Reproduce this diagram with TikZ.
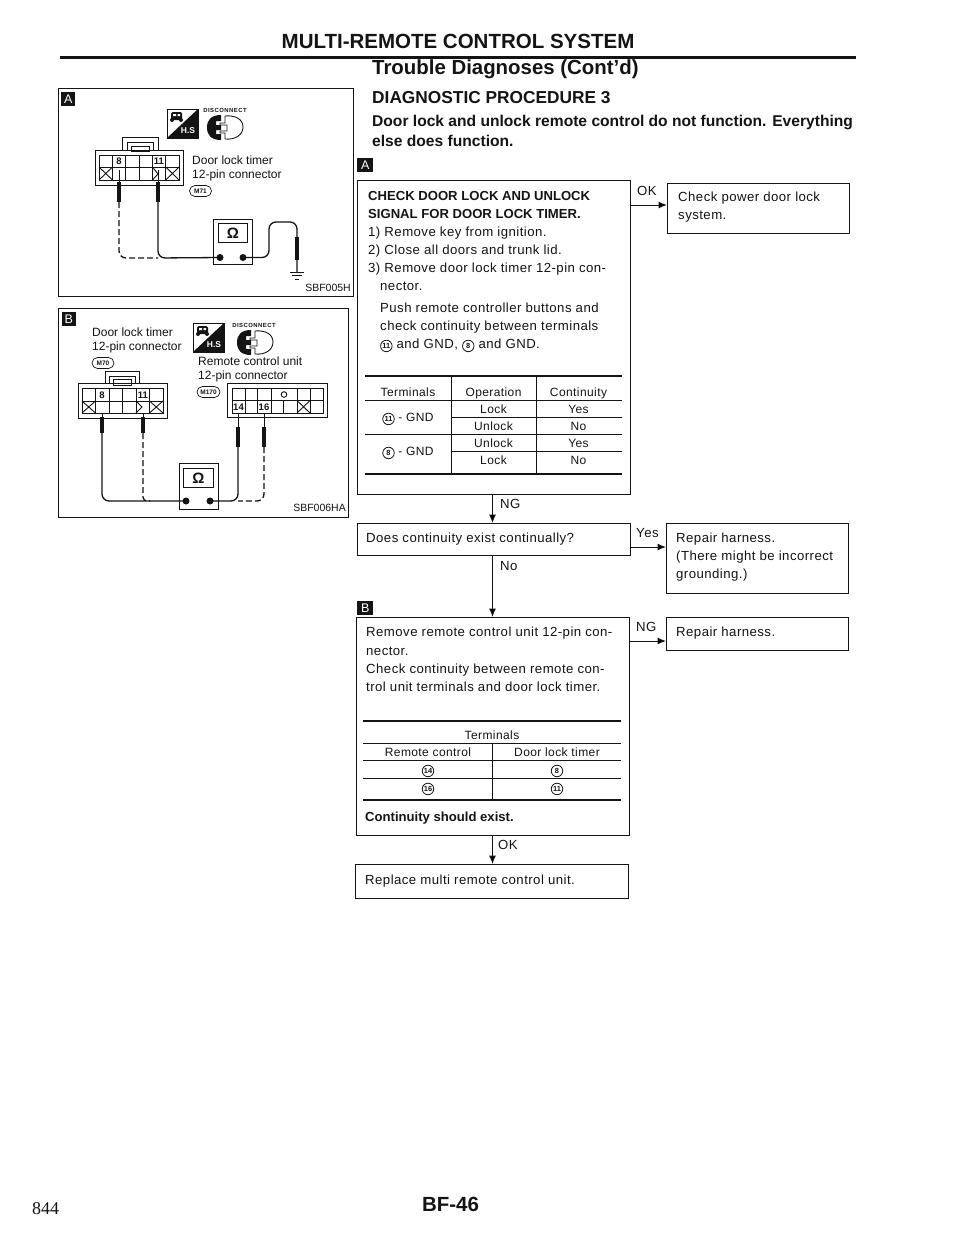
\documentclass[tikz,border=0pt]{standalone}
\usepackage{fontspec}
\setmainfont{Liberation Sans}
\newfontfamily\serifnum{Liberation Serif}
\newfontfamily\lsf[LetterSpace=3.4]{Liberation Sans}
\newfontfamily\wdf[LetterSpace=8]{Liberation Sans}
\usetikzlibrary{arrows.meta,shapes.misc}
\definecolor{ink}{HTML}{141414}
\newcommand\fs[1]{\fontsize{#1}{#1}\selectfont}
\newcommand\cnum[1]{\tikz[baseline=(cnn.base)]\node[circle,draw=ink,line width=0.8pt,inner sep=0pt,minimum size=11.5pt,text=ink,font=\rmfamily\bfseries\fs{7.4}] (cnn) {#1};}
\newcommand\xc[4]{\draw[thin1] (#1,#2) -- (#3,#4) (#1,#4) -- (#3,#2);}
\tikzset{
  x=1pt,y=-1pt,
  thin1/.style={draw=ink,line width=0.9pt},
  boxn/.style={draw=ink,line width=1.1pt,anchor=north west,inner sep=0pt,fill=none},
  txt/.style={anchor=base west,inner sep=0pt,text=ink,font=\lsf\fs{13.2}},
  txtc/.style={anchor=base,inner sep=0pt,text=ink,font=\lsf\fs{12}},
  tbold/.style={anchor=base west,inner sep=0pt,text=ink,font=\fs{13.1}\bfseries},
  lab/.style={anchor=base west,inner sep=0pt,text=ink,font=\fs{12}},
  tagbox/.style={fill=ink,text=white,anchor=north west,inner sep=0pt,minimum width=14pt,minimum height=14pt,font=\fs{12.5}},
  ftag/.style={tagbox,minimum width=16pt,minimum height=13.5pt},
  oval/.style={draw=ink,rounded rectangle,line width=0.7pt,inner sep=0pt,minimum height=11pt,font=\fs{6.5}\bfseries,text=ink},
  arr/.style={draw=ink,line width=1pt,-{Latex[length=8.5pt,width=7pt]}},
  wire/.style={draw=ink,line width=1.3pt,rounded corners=7pt},
  dwire/.style={wire,dash pattern=on 6pt off 3pt},
  probe/.style={draw=ink,line width=3.4pt},
  stem/.style={draw=ink,line width=1pt},
  dot/.style={circle,fill=ink,inner sep=0pt,minimum size=7pt},
  tr/.style={draw=ink,line width=0.9pt},
  trb/.style={draw=ink,line width=2pt},
  disc/.style={anchor=center,inner sep=0pt,text=ink,font=\wdf\bfseries\fs{5.9}},
  hsicon/.pic={
    \draw[ink,line width=0.8pt] (0,0) rectangle (31,29);
    \fill[ink] (31,0) -- (31,29) -- (0,29) -- cycle;
    \fill[ink,rounded corners=1.5pt] (4,3) rectangle (15,11);
    \fill[white] (6,5) rectangle (9,7) (10.5,5) rectangle (13,7);
    \fill[ink] (5,11) circle (2) (14,11) circle (2);
    \node[anchor=center,inner sep=0pt,text=white,font=\fs{8.5}\bfseries] (-t) at (21,22) {H.S};
  },
  plugicon/.pic={
    \fill[ink] (14,0) .. controls (4,0) and (0,5) .. (0,12.5) .. controls (0,20) and (4,25) .. (14,25) -- (14,19) -- (9,19) -- (9,15) -- (14,15) -- (14,10) -- (9,10) -- (9,6) -- (14,6) -- cycle;
    \draw[ink,line width=0.9pt] (18,1) .. controls (28,0) and (36,4) .. (36,12) .. controls (36,20) and (28,25) .. (18,24) -- (18,18) -- (13,18) -- (13,16) -- (20,16) -- (20,10) -- (13,10) -- (13,8) -- (18,8) -- cycle;
  },
}
\begin{document}
\begin{tikzpicture}
\useasboundingbox (0,0) rectangle (960,1242);
\fill[white] (0,0) rectangle (960,1242);
\coordinate (axis) at (492.5,0);
% header
\node[anchor=base,inner sep=0pt,text=ink,font=\fs{20.5}\bfseries] (title) at (458,48) {MULTI-REMOTE CONTROL SYSTEM};
\draw[draw=ink,line width=3pt] (60,57) -- (856,57);
\node[anchor=base west,inner sep=0pt,text=ink,font=\fs{20.4}\bfseries] (t2) at (372,74) {Trouble Diagnoses (Cont'd)};
\node[anchor=base west,inner sep=0pt,text=ink,font=\fs{17.3}\bfseries] (t3) at (372,103.5) {DIAGNOSTIC PROCEDURE 3};
\node[anchor=base west,inner sep=0pt,text=ink,font=\fs{15.6}\bfseries] (t4) at (372,126.5) {Door lock and unlock remote control do not function. Everything};
\node[anchor=base west,inner sep=0pt,text=ink,font=\fs{15.6}\bfseries] (t5) at (372,146.5) {else does function.};

% ---------- Panel A
\node[boxn,minimum width=295pt,minimum height=208pt] (pa) at (58,88) {};
\node[tagbox] (ta) at (61,92) {A};
\pic (hsa) at (167,109) {hsicon};
\node[disc] (da) at (225,110) {DISCONNECT};
\pic (pla) at (207,115) {plugicon};
% connector A
\draw[thin1] (122,150) -- (122,137) -- (158,137) -- (158,150);
\draw[thin1] (127,150) -- (127,142) -- (153,142) -- (153,150);
\draw[thin1] (131,146) rectangle (149,151);
\draw[thin1] (95,150) -- (183,150) -- (183,185) -- (95,185) -- cycle;
\draw[thin1] (99,155) rectangle (179,180);
\draw[thin1] (99,167) -- (179,167);
\foreach \q in {112.5,125.8,139.2,152.5,165.8} \draw[thin1] (\q,155) -- (\q,180);
\xc{99}{167}{112.5}{180}
\xc{165.8}{167}{179}{180}
\draw[thin1] (152.5,167) -- (158,174) -- (152.5,180);
\fill[white] (114,156) rectangle (124,166);
\node[anchor=center,inner sep=0pt,text=ink,font=\fs{9.5}\bfseries] (a8) at (119,161) {8};
\fill[white] (153.5,156) rectangle (165,166);
\node[anchor=center,inner sep=0pt,text=ink,font=\fs{9.5}\bfseries] (a11) at (159,161) {11};
\node[lab] (la1) at (192,164.5) {Door lock timer};
\node[lab] (la2) at (192,178.5) {12-pin connector};
\node[oval,minimum width=22pt] (oa) at (200.5,191) {M71};
% meter A
\node[draw=ink,line width=0.8pt,anchor=north west,inner sep=0pt,minimum width=39pt,minimum height=45pt] (ma) at (213,219) {};
\node[draw=ink,line width=0.8pt,anchor=north west,inner sep=0pt,minimum width=29pt,minimum height=19pt,font=\fs{15}\bfseries,text=ink] (sa) at (218,223) {Ω};
\node[dot] (dal) at (220,257.5) {};
\node[dot] (dar) at (243,257.5) {};
\coordinate (pa8) at (119,170);
\coordinate (pa8b) at (119,202);
\coordinate (pa11) at (158,170);
\coordinate (pa11b) at (158,202);
\draw[stem] (pa8) -- (119,182);
\draw[stem] (pa11) -- (158,182);
\draw[probe] (119,182) -- (pa8b);
\draw[probe] (158,182) -- (pa11b);
\draw[dwire] (pa8b) -- (119,258) -- (158,258);
\draw[wire] (pa11b) -- (158,258) -- (dal.center);
\coordinate (gnda) at (297,272);
\draw[wire] (dar.center) -- (269,257.5) -- (269,222) -- (297,222) -- (gnda);
\draw[probe] (297,237) -- (297,260);
\draw[thin1] (290,272) -- (304,272) (292,275.5) -- (302,275.5) (295,279) -- (299,279);
\node[anchor=base east,inner sep=0pt,text=ink,font=\fs{10.5}] (sa5) at (351,291) {SBF005H};

% ---------- Panel B
\node[boxn,minimum width=290pt,minimum height=209pt] (pb) at (58,308) {};
\node[tagbox] (tb) at (61.5,312) {B};
\node[lab] (lb1) at (92,336.5) {Door lock timer};
\node[lab] (lb2) at (92,350.5) {12-pin connector};
\node[oval,minimum width=22pt] (ob1) at (103,363) {M70};
\pic (hsb) at (193,323) {hsicon};
\node[disc] (db) at (254,325) {DISCONNECT};
\pic (plb) at (237,330) {plugicon};
\node[lab] (lb3) at (198,365.5) {Remote control unit};
\node[lab] (lb4) at (198,379.5) {12-pin connector};
\node[oval,minimum width=23pt] (ob2) at (208.5,392) {M170};
% left connector B
\draw[thin1] (105,383) -- (105,371) -- (139,371) -- (139,383);
\draw[thin1] (109,383) -- (109,376) -- (135,376) -- (135,383);
\draw[thin1] (113,379) rectangle (131,385);
\draw[thin1] (78,383) -- (167,383) -- (167,418) -- (78,418) -- cycle;
\draw[thin1] (82,388) rectangle (163,413);
\draw[thin1] (82,401) -- (163,401);
\foreach \q in {95.5,109,122.5,136,149.5} \draw[thin1] (\q,388) -- (\q,413);
\xc{82}{401}{95.5}{413}
\xc{149.5}{401}{163}{413}
\draw[thin1] (136,401) -- (142,407) -- (136,413);
\fill[white] (97,389) rectangle (108,400);
\node[anchor=center,inner sep=0pt,text=ink,font=\fs{9.5}\bfseries] (b8) at (102,395) {8};
\fill[white] (137,389) rectangle (149,400);
\node[anchor=center,inner sep=0pt,text=ink,font=\fs{9.5}\bfseries] (b11) at (143,395) {11};
% right connector B
\draw[thin1] (227,383) rectangle (327,417);
\draw[thin1] (232,388) rectangle (323,413);
\draw[thin1] (232,400.5) -- (323,400.5);
\foreach \q in {245,257.5,271,297,310} \draw[thin1] (\q,388) -- (\q,400.5);
\foreach \q in {245,257.5,271,283.5,297,310} \draw[thin1] (\q,400.5) -- (\q,413);
\xc{297}{400.5}{310}{413}
\draw[thin1] (284,394.5) circle (2.8);
\fill[white] (233,402) rectangle (244,412) (258.5,402) rectangle (270,412);
\node[anchor=center,inner sep=0pt,text=ink,font=\fs{9.5}\bfseries] (b14) at (238.5,407) {14};
\node[anchor=center,inner sep=0pt,text=ink,font=\fs{9.5}\bfseries] (b16) at (264,407) {16};
% meter B
\node[draw=ink,line width=0.8pt,anchor=north west,inner sep=0pt,minimum width=39pt,minimum height=46pt] (mb) at (179,463) {};
\node[draw=ink,line width=0.8pt,anchor=north west,inner sep=0pt,minimum width=30pt,minimum height=19pt,font=\fs{15}\bfseries,text=ink] (sb) at (183,468) {Ω};
\node[dot] (dbl) at (186,501) {};
\node[dot] (dbr) at (210,501) {};
\draw[stem] (102,413) -- (102,417);
\draw[stem] (143,413) -- (143,417);
\draw[probe] (102,417) -- (102,433);
\draw[probe] (143,417) -- (143,433);
\draw[wire] (102,433) -- (102,501) -- (dbl.center);
\draw[dwire,rounded corners=4pt] (143,433) -- (143,501) -- (150,501);
\draw[stem] (238,413) -- (238,427);
\draw[stem] (264,413) -- (264,427);
\draw[probe] (238,427) -- (238,447);
\draw[probe] (264,427) -- (264,447);
\draw[wire] (238,447) -- (238,501) -- (dbr.center);
\draw[dwire] (264,447) -- (264,501) -- (238,501);
\node[anchor=base east,inner sep=0pt,text=ink,font=\fs{10.5}] (sb6) at (346,511) {SBF006HA};

% ---------- Flowchart
\node[ftag] (fa) at (357,158) {A};
\node[boxn,minimum width=273pt,minimum height=314pt] (b1) at (357,180) {};
\node[tbold] (x1) at (368,200.5) {CHECK DOOR LOCK AND UNLOCK};
\node[tbold] (x2) at (368,218.5) {SIGNAL FOR DOOR LOCK TIMER.};
\node[txt] (x3) at (368,236.5) {1) Remove key from ignition.};
\node[txt] (x4) at (368,254.5) {2) Close all doors and trunk lid.};
\node[txt] (x5) at (368,272.5) {3) Remove door lock timer 12-pin con-};
\node[txt] (x6) at (380,290.5) {nector.};
\node[txt] (x7) at (380,312.5) {Push remote controller buttons and};
\node[txt] (x8) at (380,330.5) {check continuity between terminals};
\node[txt] (x9) at (380,348.5) {\cnum{11} and GND, \cnum{8} and GND.};
% table 1
\draw[trb] (365,376) -- (622,376);
\draw[trb] (365,474) -- (622,474);
\draw[tr] (365,400) -- (622,400) (365,434) -- (622,434) (451,417) -- (622,417) (451,451) -- (622,451);
\draw[tr] (451,376) -- (451,474) (536,376) -- (536,474);
\node[txtc] (c1) at (408,396) {Terminals};
\node[txtc] (c2) at (493.5,396) {Operation};
\node[txtc] (c3) at (578.5,396) {Continuity};
\node[txtc] (c4) at (408,421.5) {\cnum{11} - GND};
\node[txtc] (c5) at (408,455.5) {\cnum{8} - GND};
\node[txtc] (c6) at (493.5,413) {Lock};
\node[txtc] (c7) at (493.5,430) {Unlock};
\node[txtc] (c8) at (493.5,447) {Unlock};
\node[txtc] (c9) at (493.5,464) {Lock};
\node[txtc] (c10) at (578.5,413) {Yes};
\node[txtc] (c11) at (578.5,430) {No};
\node[txtc] (c12) at (578.5,447) {Yes};
\node[txtc] (c13) at (578.5,464) {No};

\node[boxn,minimum width=182pt,minimum height=50pt] (okb) at (667,183) {};
\node[txt] (o1) at (678,201) {Check power door lock};
\node[txt] (o2) at (678,219) {system.};
\coordinate (ya) at (631,205);
\draw[arr] (ya -| b1.east) -- (ya -| okb.west);
\node[txt] (lok) at (637,195.5) {OK};

\node[boxn,minimum width=273pt,minimum height=32pt] (b2) at (357,523) {};
\node[txt] (d1) at (366,542.5) {Does continuity exist continually?};
\draw[arr] (b1.south -| axis) -- (b2.north -| axis);
\node[txt] (lng) at (500,508.5) {NG};

\node[boxn,minimum width=182pt,minimum height=70pt] (rp) at (666,523) {};
\node[txt] (r1) at (676,542.5) {Repair harness.};
\node[txt] (r2) at (676,560.5) {(There might be incorrect};
\node[txt] (r3) at (676,578.5) {grounding.)};
\coordinate (yb) at (630,547);
\draw[arr] (yb -| b2.east) -- (yb -| rp.west);
\node[txt] (lyes) at (636,537) {Yes};

\node[ftag] (fb) at (357,601) {B};
\node[boxn,minimum width=273pt,minimum height=218pt] (b3) at (356,617) {};
\draw[arr] (b2.south -| axis) -- (b3.north -| axis);
\node[txt] (lno) at (500,570) {No};
\node[txt] (e1) at (366,636) {Remove remote control unit 12-pin con-};
\node[txt] (e2) at (366,655) {nector.};
\node[txt] (e3) at (366,673.5) {Check continuity between remote con-};
\node[txt] (e4) at (366,691.5) {trol unit terminals and door lock timer.};
% table 2
\draw[trb] (363,721) -- (621,721);
\draw[trb] (363,800) -- (621,800);
\draw[tr] (363,743) -- (621,743) (363,760) -- (621,760) (363,778) -- (621,778);
\draw[tr] (492,743) -- (492,800);
\node[txtc] (g1) at (492,739) {Terminals};
\node[txtc] (g2) at (428,756) {Remote control};
\node[txtc] (g3) at (557,756) {Door lock timer};
\node[txtc] (g4) at (428,773.5) {\cnum{14}};
\node[txtc] (g5) at (557,773.5) {\cnum{8}};
\node[txtc] (g6) at (428,791.5) {\cnum{16}};
\node[txtc] (g7) at (557,791.5) {\cnum{11}};
\node[tbold] (g8) at (365,821) {Continuity should exist.};

\node[boxn,minimum width=182pt,minimum height=33pt] (rq) at (666,617) {};
\node[txt] (q1) at (676,636) {Repair harness.};
\coordinate (yc) at (630,641);
\draw[arr] (yc -| b3.east) -- (yc -| rq.west);
\node[txt] (lng2) at (636,631) {NG};

\node[boxn,minimum width=273pt,minimum height=34pt] (b4) at (355,864) {};
\node[txt] (h1) at (365,884.5) {Replace multi remote control unit.};
\draw[arr] (b3.south -| axis) -- (b4.north -| axis);
\node[txt] (lok2) at (498,849.5) {OK};

% footer
\node[anchor=base west,inner sep=0pt,text=ink,font=\serifnum\fs{18}] (pg) at (32,1214) {844};
\node[anchor=base,inner sep=0pt,text=ink,font=\fs{20.5}\bfseries] (bf) at (450.5,1211) {BF-46};
\end{tikzpicture}
\end{document}
